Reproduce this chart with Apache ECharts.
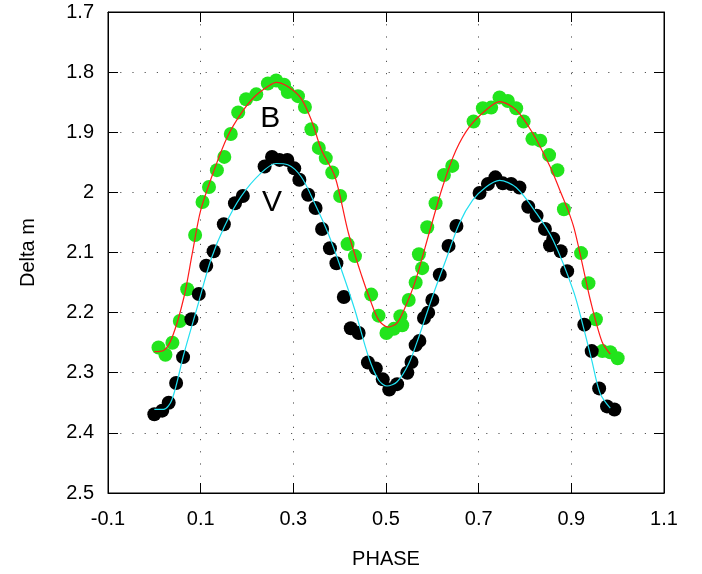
<!DOCTYPE html>
<html>
<head>
<meta charset="utf-8">
<script src="https://cdn.jsdelivr.net/npm/echarts@6/dist/echarts.min.js"></script>
<style>
    html, body { margin: 0; padding: 0; background: #fff; }
    #chart { width: 702px; height: 574px; }
</style>
</head>
<body>
<div id="chart"></div>
<script>
// observed points, [phase, delta m]
const bPoints = [
    [0.009, 2.258], [0.024, 2.270], [0.039, 2.250], [0.055, 2.214], [0.071, 2.161],
    [0.088, 2.071], [0.104, 2.016], [0.118, 1.991], [0.135, 1.963], [0.151, 1.941],
    [0.165, 1.903], [0.181, 1.867], [0.198, 1.845], [0.220, 1.837], [0.245, 1.819],
    [0.263, 1.814], [0.280, 1.821], [0.288, 1.833], [0.310, 1.840], [0.325, 1.858],
    [0.339, 1.895], [0.355, 1.926], [0.370, 1.943], [0.384, 1.967], [0.401, 2.006],
    [0.417, 2.086], [0.433, 2.106], [0.468, 2.170], [0.484, 2.205], [0.501, 2.234],
    [0.517, 2.227], [0.531, 2.206], [0.535, 2.221], [0.549, 2.179], [0.564, 2.150],
    [0.571, 2.103], [0.578, 2.126], [0.589, 2.058], [0.607, 2.018], [0.625, 1.971],
    [0.643, 1.956], [0.689, 1.882], [0.709, 1.860], [0.727, 1.859], [0.745, 1.842],
    [0.763, 1.848], [0.781, 1.860], [0.797, 1.882], [0.816, 1.911], [0.833, 1.914],
    [0.852, 1.938], [0.870, 1.963], [0.884, 2.028], [0.921, 2.101], [0.937, 2.151],
    [0.953, 2.211], [0.967, 2.264], [0.984, 2.266], [1.000, 2.276]
];
const vPoints = [
    [0.000, 2.369], [0.017, 2.363], [0.031, 2.350], [0.047, 2.317], [0.062, 2.274],
    [0.080, 2.211], [0.096, 2.169], [0.112, 2.122], [0.128, 2.098], [0.150, 2.053],
    [0.174, 2.018], [0.191, 2.006], [0.238, 1.957], [0.254, 1.941], [0.270, 1.946],
    [0.287, 1.946], [0.302, 1.960], [0.313, 1.979], [0.332, 2.004], [0.348, 2.026],
    [0.362, 2.061], [0.379, 2.093], [0.393, 2.118], [0.409, 2.174], [0.424, 2.226],
    [0.441, 2.234], [0.461, 2.283], [0.478, 2.293], [0.493, 2.311], [0.507, 2.328],
    [0.524, 2.319], [0.546, 2.300], [0.555, 2.282], [0.564, 2.254], [0.572, 2.247],
    [0.582, 2.209], [0.591, 2.200], [0.600, 2.179], [0.616, 2.137], [0.635, 2.089],
    [0.652, 2.056], [0.702, 2.001], [0.720, 1.986], [0.736, 1.975], [0.752, 1.985],
    [0.770, 1.986], [0.788, 1.992], [0.807, 2.024], [0.825, 2.039], [0.843, 2.061],
    [0.854, 2.088], [0.861, 2.077], [0.877, 2.098], [0.891, 2.131], [0.928, 2.220],
    [0.944, 2.264], [0.960, 2.326], [0.977, 2.356], [0.993, 2.361]
];
// fitted light curves
const bFit = [
    [0.000, 2.265], [0.020, 2.263], [0.039, 2.240], [0.064, 2.174], [0.082, 2.101],
    [0.100, 2.030], [0.129, 1.963], [0.158, 1.907], [0.187, 1.869], [0.216, 1.841],
    [0.245, 1.824], [0.263, 1.817], [0.288, 1.824], [0.317, 1.844], [0.340, 1.882],
    [0.361, 1.930], [0.390, 1.974], [0.419, 2.068], [0.448, 2.140], [0.466, 2.179],
    [0.484, 2.212], [0.504, 2.224], [0.524, 2.217], [0.542, 2.190], [0.564, 2.146],
    [0.593, 2.068], [0.622, 1.991], [0.651, 1.930], [0.680, 1.891], [0.716, 1.863],
    [0.745, 1.849], [0.781, 1.863], [0.817, 1.902], [0.854, 1.957], [0.875, 1.996],
    [0.893, 2.030], [0.906, 2.060], [0.922, 2.113], [0.941, 2.179], [0.966, 2.248],
    [0.984, 2.269]
];
const vFit = [
    [0.000, 2.361], [0.020, 2.361], [0.038, 2.345], [0.064, 2.268], [0.093, 2.190],
    [0.122, 2.112], [0.151, 2.057], [0.187, 2.007], [0.230, 1.968], [0.263, 1.952],
    [0.288, 1.954], [0.317, 1.974], [0.346, 2.018], [0.375, 2.068], [0.404, 2.129],
    [0.433, 2.196], [0.462, 2.273], [0.484, 2.312], [0.502, 2.322], [0.524, 2.315],
    [0.549, 2.285], [0.571, 2.240], [0.600, 2.174], [0.629, 2.113], [0.658, 2.052],
    [0.687, 2.013], [0.716, 1.991], [0.745, 1.980], [0.781, 1.992], [0.825, 2.035],
    [0.861, 2.080], [0.905, 2.165], [0.926, 2.224], [0.944, 2.279], [0.962, 2.334],
    [0.984, 2.359]
];
const bandLabels = [
    { text: 'B', at: [0.250, 1.877] },
    { text: 'V', at: [0.254, 2.017] }
];

const font = '"Liberation Sans", Arial, Helvetica, sans-serif';
const dotted = { color: '#555', width: 1, type: [1.2, 11] };
const edgeTick = { show: true, inside: true, length: 10, lineStyle: { color: '#000' } };
const edgeLine = { show: true, onZero: false, lineStyle: { color: '#000' } };

let myChart = echarts.init(document.getElementById('chart'), null, { renderer: 'canvas' });

const option = {
    animation: false,
    backgroundColor: '#fff',
    grid: {
        left: 108, right: 38, top: 12, bottom: 81,
        show: true, borderColor: '#000', borderWidth: 1
    },
    xAxis: [{
        type: 'value', min: -0.1, max: 1.1, interval: 0.2,
        name: 'PHASE', nameLocation: 'middle', nameGap: 56,
        nameTextStyle: { color: '#000', fontSize: 20, fontFamily: font },
        axisLine: edgeLine,
        axisTick: edgeTick,
        axisLabel: {
            color: '#000', fontSize: 20, fontFamily: font, margin: 16,
            formatter: v => String(+v.toFixed(1))
        },
        splitLine: { show: true, lineStyle: dotted }
    }, {
        type: 'value', min: -0.1, max: 1.1, interval: 0.2, position: 'top',
        axisLine: edgeLine,
        axisTick: edgeTick,
        axisLabel: { show: false }, splitLine: { show: false }
    }],
    yAxis: [{
        type: 'value', inverse: true, min: 1.7, max: 2.5, interval: 0.1,
        name: 'Delta m', nameLocation: 'middle', nameGap: 70, nameRotate: 90,
        nameTextStyle: { color: '#000', fontSize: 20, fontFamily: font },
        axisLine: edgeLine,
        axisTick: edgeTick,
        axisLabel: {
            color: '#000', fontSize: 20, fontFamily: font, margin: 14,
            formatter: v => String(+v.toFixed(1))
        },
        splitLine: { show: true, lineStyle: dotted }
    }, {
        type: 'value', inverse: true, min: 1.7, max: 2.5, interval: 0.1, position: 'right',
        axisLine: edgeLine,
        axisTick: edgeTick,
        axisLabel: { show: false }, splitLine: { show: false }
    }],
    series: [
        {
            name: 'B obs', type: 'scatter', data: bPoints,
            symbolSize: 14, itemStyle: { color: '#22e41c', opacity: 1 }, z: 2
        },
        {
            name: 'V obs', type: 'scatter', data: vPoints,
            symbolSize: 14, itemStyle: { color: '#000', opacity: 1 }, z: 2
        },
        {
            name: 'B fit', type: 'line', data: bFit, showSymbol: false, smooth: 0.3,
            lineStyle: { color: '#ff1a1a', width: 1.2 }, z: 3
        },
        {
            name: 'V fit', type: 'line', data: vFit, showSymbol: false, smooth: 0.3,
            lineStyle: { color: '#22dff0', width: 1.2 }, z: 3
        },
        {
            name: 'labels', type: 'scatter', symbolSize: 1, silent: true, z: 4,
            itemStyle: { color: 'rgba(0,0,0,0)' },
            data: bandLabels.map(d => ({ value: d.at, name: d.text })),
            label: {
                show: true, position: 'inside', formatter: p => p.name,
                color: '#000', opacity: 1, fontSize: 30, fontFamily: font
            }
        }
    ]
};

option && myChart.setOption(option);
</script>
</body>
</html>
